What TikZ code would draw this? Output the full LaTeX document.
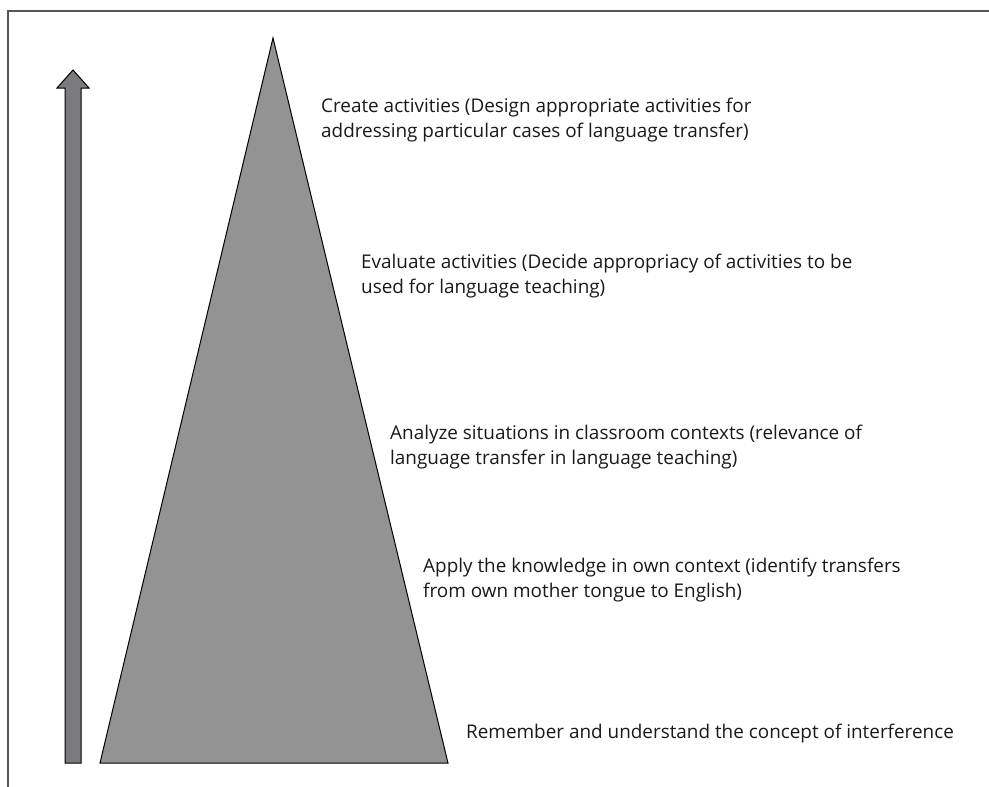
\documentclass[tikz,border=0pt]{standalone}
\usepackage{fontspec}
\setmainfont{Open Sans}
\definecolor{trigray}{HTML}{939393}
\definecolor{arrgray}{HTML}{7B7B7D}
\definecolor{framegray}{HTML}{555555}
\definecolor{txt}{HTML}{1A1A1A}
\tikzset{
  lbl/.style={anchor=base west, inner sep=0pt, text=txt, font=\fontsize{18.9}{25}\selectfont, align=left},
  shapeline/.style={draw=black, line width=1pt, line join=miter}
}
\begin{document}
\begin{tikzpicture}[x=1pt,y=-1pt]
\useasboundingbox (0,0) rectangle (989,787);
\fill[white] (0,0) rectangle (989,787);
% frame
\draw[framegray, line width=2pt] (8,787) -- (8,11) -- (989,11);
% arrow
\draw[shapeline, fill=arrgray] (65,763) -- (65,88) -- (57,88) -- (73,70) -- (89,88) -- (81,88) -- (81,763) -- cycle;
% pyramid
\coordinate (apex) at (273,38);
\coordinate (bl) at (100,763);
\coordinate (br) at (448,763);
\draw[shapeline, fill=trigray] (apex) -- (br) -- (bl) -- cycle;
% labels (anchor at baseline of last line)
\node[lbl] (l1) at (321,137) {Create activities (Design appropriate activities for\\addressing particular cases of language transfer)};
\node[lbl] (l2) at (361,293) {Evaluate activities (Decide appropriacy of activities to be\\used for language teaching)};
\node[lbl] (l3) at (390,464) {Analyze situations in classroom contexts (relevance of\\language transfer in language teaching)};
\node[lbl] (l4) at (423,597) {Apply the knowledge in own context (identify transfers\\from own mother tongue to English)};
\node[lbl] (l5) at (466,738) {Remember and understand the concept of interference};
\end{tikzpicture}
\end{document}
